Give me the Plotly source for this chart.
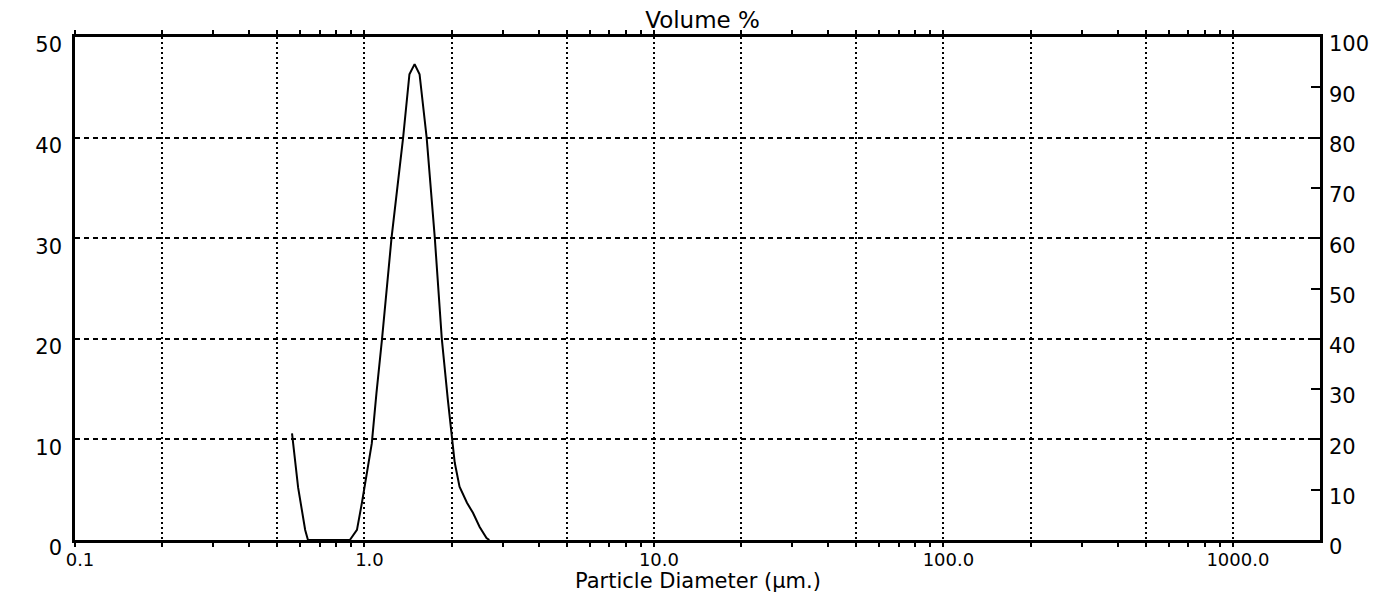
import plotly.graph_objects as go

# Particle diameter (µm) and volume %
diameter = [0.562, 0.59, 0.624, 0.638, 0.89, 0.942, 0.98, 1.012, 1.06, 1.10, 1.15,
            1.24, 1.36, 1.43, 1.49, 1.55, 1.64, 1.75, 1.85, 1.94, 2.00, 2.05,
            2.13, 2.26, 2.37, 2.50, 2.64, 2.70]
volume = [10.6, 5.2, 1.0, 0.0, 0.0, 1.0, 3.7, 6.3, 9.6, 14.6, 20.0,
          30.0, 40.0, 46.3, 47.3, 46.3, 40.0, 30.0, 20.0, 14.0, 10.5, 7.7,
          5.3, 3.7, 2.7, 1.3, 0.2, 0.0]

grid_vals = [0.1, 0.2, 0.5, 1, 2, 5, 10, 20, 50, 100, 200, 500, 1000]
grid_text = ["0.1", "", "", "1.0", "", "", "10.0", "", "", "100.0", "", "", "1000.0"]
minor_vals = [m * d for d in [0.1, 1, 10, 100, 1000] for m in [3, 4, 6, 7, 8, 9] if m * d < 2000]

left_ticks = [0, 10, 20, 30, 40, 50]
right_ticks = [0, 10, 20, 30, 40, 50, 60, 70, 80, 90, 100]

FONT = "DejaVu Sans"

fig = go.Figure()
fig.add_trace(go.Scatter(x=diameter, y=volume, mode="lines",
                         line=dict(color="black", width=2),
                         showlegend=False, hoverinfo="skip"))
# trace on the secondary (cumulative) axis so that it is drawn
fig.add_trace(go.Scatter(x=[1], y=[None], yaxis="y2", mode="lines",
                         showlegend=False, hoverinfo="skip"))

fig.update_layout(
    width=1383, height=605,
    margin=dict(l=75, r=63, t=37, b=65),
    paper_bgcolor="white", plot_bgcolor="white",
    font=dict(family=FONT, color="black"),
    title=dict(text="Volume %", x=0.508, xanchor="center", y=1 - 20 / 605,
               yanchor="middle", yref="container",
               font=dict(size=23, family=FONT, color="black")),
    xaxis=dict(
        type="log", range=[-1, 3.301],
        tickvals=grid_vals, ticktext=grid_text,
        ticks="outside", ticklen=4, tickcolor="black", tickwidth=1.5,
        tickfont=dict(size=18, family=FONT, color="black"),
        ticklabelshift=5, ticklabelstandoff=-2,
        showgrid=True, gridcolor="black", gridwidth=1.6, griddash="2px,3px",
        showline=True, linecolor="black", linewidth=2.5, mirror="ticks",
        zeroline=False,
        minor=dict(tickvals=minor_vals, ticks="outside", ticklen=4,
                   tickcolor="black", tickwidth=1.5, showgrid=False),
    ),
    yaxis=dict(
        range=[0, 50], tickvals=left_ticks,
        tickfont=dict(size=21, family=FONT, color="black"),
        ticks="", ticklabelstandoff=6, ticklabelshift=8,
        showgrid=True, gridcolor="black", gridwidth=1.6, griddash="5px,4px",
        showline=True, linecolor="black", linewidth=2.5,
        zeroline=False,
    ),
    yaxis2=dict(
        range=[0, 100], tickvals=right_ticks, overlaying="y", side="right",
        tickfont=dict(size=21, family=FONT, color="black"),
        ticks="inside", ticklen=9, tickcolor="black", tickwidth=1.5,
        ticklabelstandoff=2, ticklabelshift=7,
        showgrid=False, showline=True, linecolor="black", linewidth=2.5,
        zeroline=False,
    ),
    annotations=[dict(text="Particle Diameter (µm.)", xref="paper", yref="paper",
                      x=0.5, y=-(581 - 540) / 503, xanchor="center", yanchor="middle",
                      showarrow=False, font=dict(size=21, family=FONT, color="black"))],
)

fig.write_html("out.html")
